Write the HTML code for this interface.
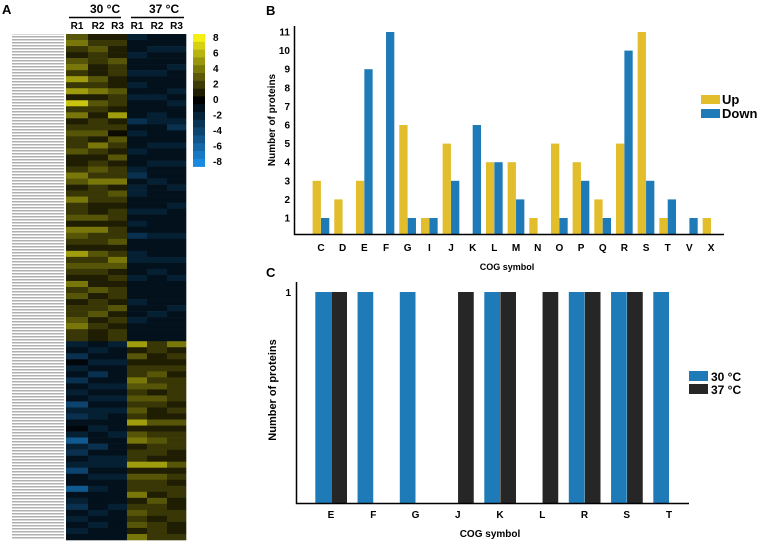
<!DOCTYPE html>
<html><head><meta charset="utf-8"><style>
body{margin:0;background:#fff;font-family:"Liberation Sans",sans-serif;}
svg text{font-family:"Liberation Sans",sans-serif;font-weight:bold;}
</style></head><body>
<svg id="fig" width="760" height="544" xmlns="http://www.w3.org/2000/svg">
<rect width="760" height="544" fill="#fff"/>
<g id="pa">
<text x="2" y="14" font-size="13">A</text>
<text x="90" y="13" font-size="12" font-weight="normal">30 °C</text>
<text x="149" y="13" font-size="12" font-weight="normal">37 °C</text>
<line x1="69" y1="17.5" x2="121" y2="17.5" stroke="#000" stroke-width="1.5"/>
<line x1="131" y1="17.5" x2="184" y2="17.5" stroke="#000" stroke-width="1.5"/>
<defs><pattern id="lbl" width="52" height="3" patternUnits="userSpaceOnUse"><rect width="52" height="1.5" fill="#b0b0b0"/></pattern></defs>
<rect x="12" y="34" width="52" height="506" fill="url(#lbl)"/>
<g id="hm"></g>
<g id="cbar"></g>
</g>
<g id="pb">
<text x="266" y="15" font-size="13">B</text>
</g>
<g id="pc">
<text x="266" y="277" font-size="13">C</text>
</g>
</svg>
<script>
const NS="http://www.w3.org/2000/svg";
function mk(p,t,a){const e=document.createElementNS(NS,t);for(const k in a)e.setAttribute(k,a[k]);p.appendChild(e);return e;}
// Heatmap data per column: top block (51 rows) and bottom block (33 rows)
// digits 0-8 = positive, letters a-h = negative 1..8
const hmColumns=["30R1","30R2","30R3","37R1","37R2","37R3"];
const hmTopRows=[
"453245363627352343342235423533425432634325342334533",
"234332243524323342532343533322425332434322423342322",
"232243322433262314324233524323323342354232332423233",
"cbbcbbcbcbcbbbdbcbbcbbcdbccbbcbcbdbbccbbcbbbcbbcbbb",
"bbcbbbcbbbcbbccbbbcbbcbbcbbbbcbbbcbbbcbcbbbbbbcbbbb",
"bbcbbcbbbcbcbbcdbbcbbcbbbcbbcbbbbcbbbcbbcbbbbcbbbbb"];
const hmBotRows=[
"cbdacbdbcbecdbacfcdbcebbfbcdbcbcb",
"bcbcbdbcbcbccbcbbdbccbcbcbbbcbcbb",
"cbbcbbbcbcbcbbbcbbbccbcbbbbcbbbbb",
"624233543434362452336243352343425",
"332234342432242343326243324332333",
"523232333323242333224232332233223"];
const hmX=[66,88,108,127,147,167,186];
const hmTop=34,hmBot=540,nTop=51,nBot=33;
function hmVal(ch){if(!ch)return 0;const c=ch.charCodeAt(0);return c>=97?-(c-96):(c-48);}
function hmColor(v,g){g=g||1;if(v>=0){const f=Math.pow(v/8,g);return `rgb(${Math.round(245*f)},${Math.round(240*f)},${Math.round(20*f)})`;}const f=Math.pow(-v/8,g);return `rgb(${Math.round(26*f)},${Math.round(138*f)},${Math.round(224*f)})`;}
const hm=document.getElementById('hm');
const nRows=nTop+nBot, rh=(hmBot-hmTop)/nRows;
for(let ci=0;ci<6;ci++){for(let r=0;r<nRows;r++){
 const ch=r<nTop?hmTopRows[ci][r]:hmBotRows[ci][r-nTop];
 const v=hmVal(ch);
 const e=mk(hm,'rect',{x:hmX[ci],y:(hmTop+r*rh).toFixed(2),width:hmX[ci+1]-hmX[ci]+0.3,height:(rh+0.3).toFixed(2),fill:hmColor(v,1.5)});
 
 }}
["R1","R2","R3","R1","R2","R3"].forEach((t,i)=>{const e=mk(hm,'text',{x:(hmX[i]+hmX[i+1])/2,y:29,'font-size':10,'font-weight':'normal','text-anchor':'middle'});e.textContent=t;
 
 });
const cbTicks=[8,6,4,2,0,-2,-4,-6,-8];
const cb=document.getElementById('cbar');
for(let i=0;i<17;i++){const v=8-i;const e=mk(cb,'rect',{x:193,y:34+i*7.8,width:12,height:8.1,fill:hmColor(v)});
 
 }
cbTicks.forEach(v=>{const e=mk(cb,'text',{x:213,y:38+(8-v)/16*124+3,'font-size':10,'font-weight':'normal'});e.textContent=v;
 
 });

// Panel B
const bCats=["C","D","E","F","G","I","J","K","L","M","N","O","P","Q","R","S","T","V","X"];
const bUp=[3,2,3,0,6,1,5,0,4,4,1,5,4,2,5,11,1,0,1];
const bDown=[1,0,9,11,1,1,3,6,4,2,0,1,3,1,10,3,2,1,0];
const bTicks=[1,2,3,4,5,6,7,8,9,10,11];
const pb=document.getElementById('pb');
const bx=i=>321+i*21.67, by=v=>236.6-v*18.6;
bCats.forEach((c,i)=>{
 if(bUp[i]>0){const e=mk(pb,'rect',{x:bx(i)-8.4,y:by(bUp[i]),width:8.3,height:234-by(bUp[i]),fill:'#e2bd2c'});
  
  }
 if(bDown[i]>0){const e=mk(pb,'rect',{x:bx(i),y:by(bDown[i]),width:8.3,height:234-by(bDown[i]),fill:'#1f7bb8'});
  
  }
 const t=mk(pb,'text',{x:bx(i),y:251,'font-size':10,'text-anchor':'middle'});t.textContent=c;
 
 });
bTicks.forEach(v=>{const t=mk(pb,'text',{x:290,y:by(v)+3.5,'font-size':10,'text-anchor':'end'});t.textContent=v;
 
 });
mk(pb,'path',{d:'M294.5 26V234.5H724',stroke:'#000','stroke-width':1.5,fill:'none'});
let t=mk(pb,'text',{x:507,y:270,'font-size':9,'text-anchor':'middle','font-weight':'normal'});t.textContent='COG symbol';
t=mk(pb,'text',{x:0,y:0,'font-size':10,'text-anchor':'middle','font-weight':'normal',transform:'translate(275,120) rotate(-90)'});t.textContent='Number of proteins';
mk(pb,'rect',{x:701,y:95,width:19,height:9,fill:'#e2bd2c'});
mk(pb,'rect',{x:701,y:109,width:19,height:9,fill:'#1f7bb8'});
t=mk(pb,'text',{x:722,y:104,'font-size':13});t.textContent='Up';
t=mk(pb,'text',{x:722,y:118,'font-size':13});t.textContent='Down';

// Panel C
const cCats=["E","F","G","J","K","L","R","S","T"];
const c30=[1,1,1,0,1,0,1,1,1];
const c37=[1,0,0,1,1,1,1,1,0];
const pc=document.getElementById('pc');
const cx=i=>331+i*42.25, cy=v=>503-v*211;
cCats.forEach((c,i)=>{
 if(c30[i]>0){const e=mk(pc,'rect',{x:cx(i)-15.7,y:cy(c30[i]),width:15.7,height:503-cy(c30[i]),fill:'#1f7bb8'});
  
  }
 if(c37[i]>0){const e=mk(pc,'rect',{x:cx(i)+0.3,y:cy(c37[i]),width:15.7,height:503-cy(c37[i]),fill:'#262626'});
  
  }
 const tt=mk(pc,'text',{x:cx(i),y:518,'font-size':10,'text-anchor':'middle'});tt.textContent=c;
 
 });
t=mk(pc,'text',{x:291,y:296,'font-size':10,'text-anchor':'end'});t.textContent='1';
mk(pc,'path',{d:'M296.5 282V503.5H689',stroke:'#000','stroke-width':1.5,fill:'none'});
t=mk(pc,'text',{x:490,y:537,'font-size':10,'text-anchor':'middle'});t.textContent='COG symbol';
t=mk(pc,'text',{x:0,y:0,'font-size':11,'text-anchor':'middle',transform:'translate(276,390) rotate(-90)'});t.textContent='Number of proteins';
mk(pc,'rect',{x:689,y:371,width:19,height:10,fill:'#1f7bb8'});
mk(pc,'rect',{x:689,y:384,width:19,height:10,fill:'#262626'});
t=mk(pc,'text',{x:711,y:381,'font-size':12});t.textContent='30 °C';
t=mk(pc,'text',{x:711,y:394,'font-size':12});t.textContent='37 °C';
</script>
</body></html>
